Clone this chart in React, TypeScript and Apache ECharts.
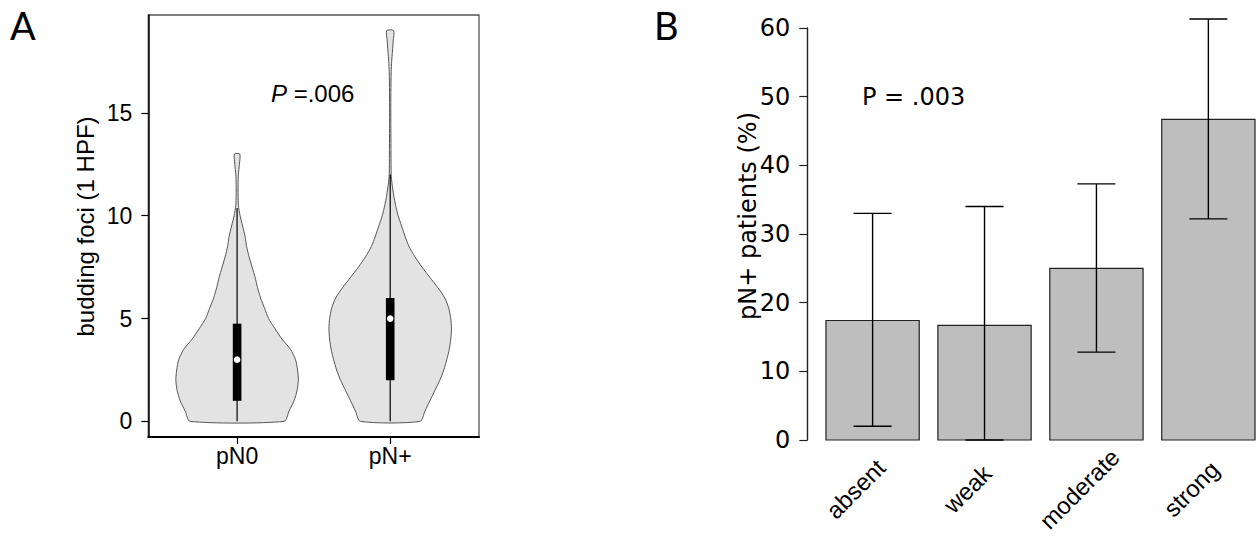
import React, { useEffect, useRef } from "react";
import * as echarts from "echarts";

// ---------- Panel A: violin plot ----------
const groups = ["pN0", "pN+"];
const pN0Levels = [0, 0.5, 1, 1.5, 2, 2.5, 3, 3.5, 4, 4.5, 5, 5.5, 6, 6.5, 7, 7.5, 8, 8.5, 9, 9.5, 10, 10.5, 11, 11.5, 12, 12.5, 13];
const pN0Density = [0.767, 0.848, 0.93, 0.979, 1.0, 0.987, 0.954, 0.873, 0.734, 0.62, 0.514, 0.449, 0.383, 0.334, 0.294, 0.245, 0.196, 0.155, 0.13, 0.09, 0.049, 0.021, 0.016, 0.016, 0.021, 0.038, 0.044];
const pNplusLevels = [0, 0.5, 1, 1.5, 2, 2.5, 3, 3.5, 4, 4.5, 5, 5.5, 6, 6.5, 7, 7.5, 8, 8.5, 9, 9.5, 10, 10.5, 11, 11.5, 12, 13, 14, 15, 16, 17, 17.5, 18, 18.5, 19];
const pNplusDensity = [0.486, 0.567, 0.648, 0.729, 0.81, 0.875, 0.924, 0.964, 0.989, 1.0, 0.989, 0.956, 0.891, 0.778, 0.648, 0.519, 0.405, 0.308, 0.243, 0.186, 0.13, 0.089, 0.057, 0.032, 0.016, 0.013, 0.011, 0.01, 0.011, 0.016, 0.024, 0.037, 0.049, 0.057];
// [lower whisker, Q1, median, Q3, upper whisker]
const pN0Box = [0, 1, 3, 4.75, 10.375];
const pNplusBox = [0, 2, 5, 6, 12];
const budTicks = [0, 5, 10, 15];
const budTitle = "budding foci (1 HPF)";
const budP = ".006";

// ---------- Panel B: bar chart ----------
const categories = ["absent", "weak", "moderate", "strong"];
const pNPercent = [17.4, 16.7, 25.0, 46.7];
const ciLow = [2.0, 0, 12.8, 32.2];
const ciHigh = [33.0, 34.0, 37.3, 61.3];
const pctTitle = "pN+ patients (%)";
const pctP = ".003";

const FONT_A = "'Liberation Sans', Arial, sans-serif";
const FONT_B = "'DejaVu Sans', sans-serif";

const violinLevels = [pN0Levels, pNplusLevels];
const violinDensity = [pN0Density, pNplusDensity];
const violinBox = [pN0Box, pNplusBox];

export default function App() {
  const ref = useRef<HTMLDivElement>(null);

  useEffect(() => {
    if (!ref.current) return;
    const chart = echarts.init(ref.current, undefined, { renderer: "svg" });

    const violinRender = (params: any, api: any) => {
      const i = params.dataIndex;
      const xc = i + 1;
      const lv = violinLevels[i];
      const d = violinDensity[i];
      const b = violinBox[i];
      const left = lv.map((v, k) => api.coord([xc - d[k] * 0.4, v]));
      const right = lv.map((v, k) => api.coord([xc + d[k] * 0.4, v])).reverse();
      const pts = left.concat(right);
      const cLow = api.coord([xc, b[0]]);
      const cHigh = api.coord([xc, b[4]]);
      const cQ1 = api.coord([xc, b[1]]);
      const cQ3 = api.coord([xc, b[3]]);
      const cMed = api.coord([xc, b[2]]);
      return {
        type: "group",
        children: [
          {
            type: "polygon",
            shape: { points: pts, smooth: 0.25 },
            style: { fill: "#e3e3e3", stroke: "#555", lineWidth: 1 },
          },
          {
            type: "line",
            shape: { x1: cLow[0], y1: cLow[1], x2: cHigh[0], y2: cHigh[1] },
            style: { stroke: "#000", lineWidth: 1.2 },
          },
          {
            type: "rect",
            shape: { x: cQ3[0] - 4.3, y: cQ3[1], width: 8.6, height: cQ1[1] - cQ3[1] },
            style: { fill: "#000" },
          },
          {
            type: "circle",
            shape: { cx: cMed[0], cy: cMed[1], r: 3.3 },
            style: { fill: "#fff" },
          },
        ],
      };
    };

    const barRender = (params: any, api: any) => {
      const xc = api.value(0);
      const v = api.value(1);
      const lo = api.value(2);
      const hi = api.value(3);
      const tl = api.coord([xc - 0.5, v]);
      const br = api.coord([xc + 0.5, 0]);
      const pLo = api.coord([xc, lo]);
      const pHi = api.coord([xc, hi]);
      const base = api.coord([xc, 0]);
      const cap = 19;
      return {
        type: "group",
        children: [
          {
            type: "rect",
            shape: { x: tl[0], y: tl[1], width: br[0] - tl[0], height: br[1] - tl[1] },
            style: { fill: "#bebebe", stroke: "#222", lineWidth: 1.2 },
          },
          {
            type: "line",
            shape: { x1: pLo[0], y1: pLo[1], x2: pHi[0], y2: pHi[1] },
            style: { stroke: "#000", lineWidth: 1.4 },
          },
          {
            type: "line",
            shape: { x1: pHi[0] - cap, y1: pHi[1], x2: pHi[0] + cap, y2: pHi[1] },
            style: { stroke: "#000", lineWidth: 1.4 },
          },
          {
            type: "line",
            shape: { x1: pLo[0] - cap, y1: pLo[1], x2: pLo[0] + cap, y2: pLo[1] },
            style: { stroke: "#000", lineWidth: 1.4 },
          },
          {
            type: "text",
            x: base[0] - 17,
            y: base[1] + 49,
            rotation: Math.PI / 4,
            style: {
              text: categories[params.dataIndex],
              fontSize: 24,
              fontFamily: FONT_A,
              fill: "#000",
              align: "center",
              verticalAlign: "middle",
            },
          },
        ],
      };
    };

    const option: any = {
      animation: false,
      backgroundColor: "#fff",
      grid: [
        {
          left: 148.3,
          top: 15,
          width: 330.7,
          height: 422,
          show: true,
          borderColor: "#555",
          borderWidth: 1.3,
          outerBoundsMode: "none",
        },
        {
          left: 807.3,
          top: 28,
          width: 447.7,
          height: 412,
          show: false,
          outerBoundsMode: "none",
        },
      ],
      xAxis: [
        {
          type: "value",
          gridIndex: 0,
          min: 0.42,
          max: 2.58,
          axisLine: { show: true, onZero: false, lineStyle: { color: "#000", width: 2 } },
          axisTick: { show: true, customValues: [1, 2], length: 7, lineStyle: { color: "#000", width: 1.2 } },
          axisLabel: {
            customValues: [1, 2],
            formatter: (v: number) => groups[Math.round(v) - 1],
            fontSize: 23,
            fontFamily: FONT_A,
            color: "#000",
            margin: 7,
          },
          splitLine: { show: false },
        },
        {
          type: "value",
          gridIndex: 1,
          min: 0,
          max: 4.8,
          show: false,
        },
      ],
      yAxis: [
        {
          type: "value",
          gridIndex: 0,
          min: -0.76,
          max: 19.76,
          axisLine: { show: true, onZero: false, lineStyle: { color: "#000", width: 1.5 } },
          axisTick: { show: true, customValues: budTicks, length: 7, lineStyle: { color: "#000", width: 1.2 } },
          axisLabel: {
            customValues: budTicks,
            fontSize: 23,
            fontFamily: FONT_A,
            color: "#000",
            margin: 16,
          },
          splitLine: { show: false },
        },
        {
          type: "value",
          gridIndex: 1,
          min: 0,
          max: 60,
          interval: 10,
          axisLine: { show: true, onZero: false, lineStyle: { color: "#222", width: 1.4 } },
          axisTick: { show: true, length: 8, lineStyle: { color: "#222", width: 1.2 } },
          axisLabel: {
            fontSize: 24,
            fontFamily: FONT_B,
            color: "#000",
            margin: 17,
          },
          splitLine: { show: false },
        },
      ],
      series: [
        {
          type: "custom",
          xAxisIndex: 0,
          yAxisIndex: 0,
          renderItem: violinRender,
          data: groups.map((g, i) => [i + 1, 0]),
          encode: { x: 0, y: 1 },
          silent: true,
        },
        {
          type: "custom",
          xAxisIndex: 1,
          yAxisIndex: 1,
          renderItem: barRender,
          data: categories.map((c, i) => [0.7 + 1.2 * i, pNPercent[i], ciLow[i], ciHigh[i]]),
          encode: { x: 0, y: 1 },
          silent: true,
        },
      ],
      graphic: [
        {
          type: "text",
          left: 10,
          top: 6,
          style: { text: "A", fontSize: 38, fontFamily: "Lato, 'Open Sans', sans-serif", fill: "#000" },
        },
        {
          type: "text",
          left: 654,
          top: 6,
          style: { text: "B", fontSize: 38, fontFamily: "Lato, 'Open Sans', sans-serif", fill: "#000" },
        },
        {
          type: "text",
          x: 85,
          y: 226.5,
          rotation: Math.PI / 2,
          style: {
            text: budTitle,
            fontSize: 24,
            fontFamily: FONT_A,
            fill: "#000",
            align: "center",
            verticalAlign: "middle",
          },
        },
        {
          type: "text",
          x: 271,
          y: 93,
          style: {
            text: "{i|P} =" + budP,
            fontSize: 24,
            fontFamily: FONT_A,
            fill: "#000",
            align: "left",
            verticalAlign: "middle",
            rich: {
              i: { fontStyle: "italic", fontSize: 24, fontFamily: FONT_A, fill: "#000" },
            },
          },
        },
        {
          type: "text",
          x: 748,
          y: 216,
          rotation: Math.PI / 2,
          style: {
            text: pctTitle,
            fontSize: 24,
            fontFamily: FONT_B,
            fill: "#000",
            align: "center",
            verticalAlign: "middle",
          },
        },
        {
          type: "text",
          x: 862,
          y: 97,
          style: {
            text: "P = " + pctP,
            fontSize: 24,
            fontFamily: FONT_B,
            fill: "#000",
            align: "left",
            verticalAlign: "middle",
          },
        },
      ],
    };

    chart.setOption(option);
    return () => chart.dispose();
  }, []);

  return (
    <div
      ref={ref}
      style={{ position: "fixed", left: 0, top: 0, width: 1257, height: 537, background: "#fff" }}
    />
  );
}
